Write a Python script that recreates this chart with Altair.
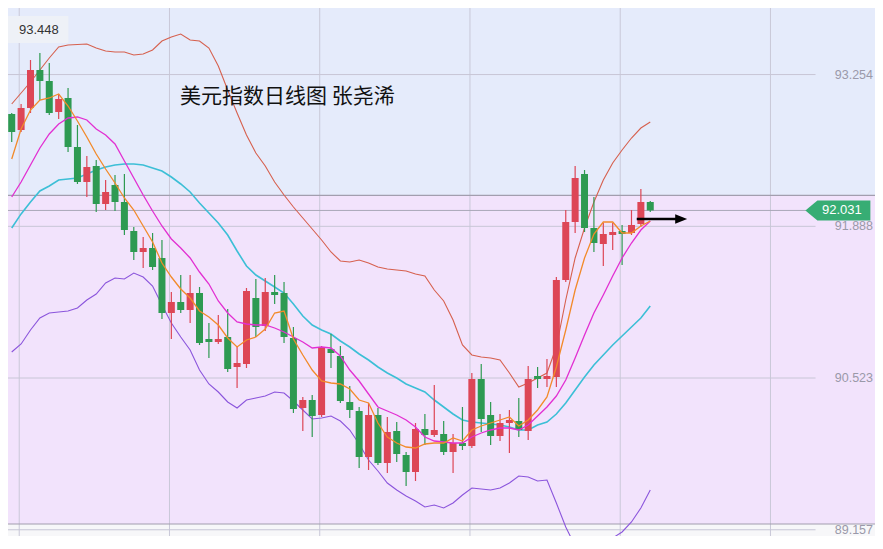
import altair as alt
import pandas as pd

# ---------------- data ----------------
idx = list(range(-1, 69))
opens = [92.602, 92.899, 92.755, 92.953, 93.295, 93.196, 92.917, 93.043, 92.602, 92.287,
         92.431, 92.089, 92.260, 92.107, 91.846, 91.657, 91.693, 91.603, 91.108, 91.207,
         91.135, 91.288, 90.874, 90.847, 90.892, 90.622, 90.649, 91.243, 90.991, 91.297,
         91.288, 90.883, 90.253, 90.325, 90.190, 90.784, 90.721, 90.307, 90.226, 89.812,
         90.190, 89.758, 90.046, 89.830, 89.677, 90.064, 90.010, 90.019, 89.857, 89.938,
         89.911, 90.514, 90.190, 90.001, 90.118, 90.136, 90.046, 90.541, 90.514, 90.532,
         91.405, 91.927, 92.359, 91.873, 91.729, 91.810, 91.846, 91.828, 91.909, 92.107]
highs = [92.935, 92.908, 92.989, 93.385, 93.448, 93.358, 93.079, 93.133, 92.800, 92.521,
         92.485, 92.305, 92.350, 92.359, 91.882, 91.792, 91.828, 91.765, 91.297, 91.450,
         91.450, 91.342, 91.018, 91.090, 91.144, 90.811, 91.333, 91.414, 91.423, 91.450,
         91.387, 90.982, 90.352, 90.370, 90.811, 90.919, 90.811, 90.451, 90.262, 90.298,
         90.253, 90.172, 90.127, 89.857, 90.118, 90.199, 90.460, 90.136, 90.019, 90.262,
         90.568, 90.649, 90.307, 90.199, 90.235, 90.343, 90.631, 90.622, 90.694, 91.432,
         92.035, 92.431, 92.395, 92.152, 91.918, 91.918, 91.900, 92.035, 92.224, 92.116]
lows = [92.575, 92.647, 92.737, 92.908, 93.025, 92.890, 92.854, 92.557, 92.269, 92.152,
        92.017, 92.035, 92.026, 91.810, 91.585, 91.513, 91.495, 91.054, 90.874, 91.108,
        91.018, 90.820, 90.703, 90.829, 90.577, 90.433, 90.613, 90.892, 90.946, 91.189,
        90.838, 90.208, 90.046, 89.992, 90.172, 90.613, 90.298, 90.163, 89.713, 89.695,
        89.740, 89.668, 89.767, 89.551, 89.596, 89.920, 89.992, 89.830, 89.668, 89.875,
        89.893, 90.037, 89.920, 89.956, 89.848, 89.992, 89.965, 90.433, 90.442, 90.442,
        91.387, 91.828, 91.837, 91.657, 91.531, 91.675, 91.540, 91.810, 91.882, 92.017]
closes = [92.908, 92.737, 92.953, 93.295, 93.196, 92.908, 93.034, 92.602, 92.287, 92.422,
          92.089, 92.197, 92.107, 91.855, 91.657, 91.693, 91.522, 91.108, 91.207, 91.135,
          91.288, 90.838, 90.847, 90.874, 90.604, 90.658, 91.306, 90.982, 91.297, 91.270,
          90.892, 90.244, 90.325, 90.181, 90.793, 90.748, 90.316, 90.235, 89.812, 90.190,
          89.758, 90.037, 89.839, 89.677, 90.064, 90.010, 90.055, 89.857, 89.938, 89.911,
          90.514, 90.154, 90.001, 90.118, 90.145, 90.055, 90.514, 90.514, 90.541, 91.405,
          91.927, 92.323, 91.873, 91.738, 91.819, 91.837, 91.819, 91.900, 92.107, 92.031]

line_idx = list(range(0, 69))
ma5 = [92.494, 92.764, 92.935, 93.025, 93.043, 93.079, 92.971, 92.836, 92.692, 92.539,
       92.404, 92.278, 92.143, 92.035, 91.891, 91.747, 91.558, 91.432, 91.324, 91.243,
       91.126, 91.072, 91.000, 90.883, 90.802, 90.865, 90.892, 90.964, 91.108, 91.126,
       90.874, 90.730, 90.595, 90.496, 90.478, 90.469, 90.424, 90.325, 90.298, 90.118,
       89.992, 89.938, 89.902, 89.893, 89.929, 89.938, 89.938, 89.983, 89.956, 90.055,
       90.091, 90.118, 90.145, 90.172, 90.091, 90.145, 90.235, 90.352, 90.622, 90.955,
       91.315, 91.603, 91.819, 91.927, 91.927, 91.828, 91.828, 91.891, 91.936]
ma10 = [92.152, 92.287, 92.440, 92.593, 92.719, 92.809, 92.863, 92.872, 92.845, 92.764,
        92.710, 92.629, 92.476, 92.323, 92.170, 92.026, 91.891, 91.774, 91.693, 91.603,
        91.477, 91.369, 91.216, 91.108, 91.027, 91.009, 91.000, 91.000, 90.973, 90.937,
        90.892, 90.847, 90.793, 90.802, 90.793, 90.721, 90.595, 90.496, 90.379, 90.262,
        90.226, 90.190, 90.145, 90.082, 89.992, 89.956, 89.947, 89.938, 89.938, 89.992,
        90.028, 90.055, 90.073, 90.073, 90.055, 90.100, 90.181, 90.262, 90.361, 90.505,
        90.703, 90.910, 91.108, 91.270, 91.441, 91.603, 91.738, 91.855, 91.936]
boll_mid = [91.873, 92.000, 92.107, 92.206, 92.251, 92.305, 92.314, 92.323, 92.359, 92.395,
            92.422, 92.440, 92.449, 92.449, 92.440, 92.413, 92.386, 92.332, 92.269, 92.197,
            92.098, 92.008, 91.918, 91.810, 91.666, 91.531, 91.450, 91.396, 91.342, 91.288,
            91.189, 91.081, 91.000, 90.955, 90.919, 90.856, 90.802, 90.739, 90.685, 90.622,
            90.568, 90.523, 90.469, 90.433, 90.397, 90.325, 90.262, 90.199, 90.145, 90.127,
            90.118, 90.109, 90.100, 90.082, 90.055, 90.055, 90.100, 90.127, 90.199, 90.298,
            90.415, 90.532, 90.640, 90.730, 90.820, 90.901, 90.982, 91.063, 91.171]
boll_up = [92.989, 93.088, 93.187, 93.295, 93.403, 93.502, 93.520, 93.525, 93.529, 93.493,
           93.466, 93.457, 93.457, 93.430, 93.439, 93.475, 93.556, 93.592, 93.619, 93.565,
           93.556, 93.493, 93.331, 93.115, 92.908, 92.710, 92.548, 92.431, 92.287, 92.170,
           92.062, 91.963, 91.864, 91.765, 91.657, 91.576, 91.567, 91.585, 91.558, 91.522,
           91.504, 91.495, 91.486, 91.459, 91.441, 91.315, 91.216, 91.045, 90.820, 90.730,
           90.712, 90.703, 90.685, 90.568, 90.442, 90.478, 90.523, 90.568, 90.802, 91.225,
           91.603, 91.873, 92.107, 92.305, 92.458, 92.575, 92.683, 92.773, 92.827]
boll_low = [90.757, 90.829, 90.955, 91.063, 91.108, 91.117, 91.126, 91.153, 91.225, 91.279,
            91.378, 91.423, 91.414, 91.468, 91.432, 91.351, 91.180, 91.018, 90.892, 90.775,
            90.595, 90.469, 90.397, 90.307, 90.253, 90.325, 90.343, 90.361, 90.397, 90.388,
            90.316, 90.235, 90.154, 90.163, 90.181, 90.136, 90.055, 89.929, 89.785, 89.686,
            89.578, 89.515, 89.461, 89.416, 89.362, 89.380, 89.353, 89.398, 89.470, 89.533,
            89.524, 89.515, 89.533, 89.578, 89.641, 89.632, 89.596, 89.605, 89.398, 89.182,
            89.011, 88.993, 89.020, 89.056, 89.083, 89.137, 89.227, 89.353, 89.515]

y_ticks = [93.254, 91.888, 90.523, 89.157]
y_tick_labels = ["93.254", "91.888", "90.523", "89.157"]
x_grid = [0.8, 16.8, 32.8, 48.8, 64.8, 80.8]
title_text = "美元指数日线图 张尧浠"

# ---------------- layout ----------------
W, H = 867, 528
UP, DOWN = "#dd4656", "#2e9a52"
xs = alt.Scale(domain=[0.137, 91.4], nice=False, zero=False)
ys = alt.Scale(domain=[89.101, 93.853], nice=False, zero=False)
NUM_FONT = "Liberation Sans"


def X(f):
    return alt.X(f, type="quantitative", scale=xs, axis=None)


def Y(f):
    return alt.Y(f, type="quantitative", scale=ys, axis=None)


candles = pd.DataFrame({"i": idx, "open": opens, "high": highs, "low": lows, "close": closes})
candles["col"] = [UP if c >= o else DOWN for o, c in zip(opens, closes)]
lines = pd.DataFrame({"i": line_idx, "ma5": ma5, "ma10": ma10, "mid": boll_mid,
                      "up": boll_up, "low": boll_low})

bg = pd.DataFrame({"top": [93.853, 92.167, 89.209], "bot": [92.167, 89.209, 89.101],
                   "fill": ["#e5ebfb", "#f2e3fc", "#f7f7f9"]})
background = alt.Chart(bg).mark_rect().encode(
    x=alt.value(0), x2=alt.value(W), y=Y("top"), y2=alt.Y2("bot"),
    color=alt.Color("fill:N", scale=None))

vgrid = alt.Chart(pd.DataFrame({"g": x_grid})).mark_rule(color="#c9c8d8", strokeWidth=1).encode(
    x=X("g"), y=alt.value(0), y2=alt.value(H))

ticks = pd.DataFrame({"v": y_ticks, "t": y_tick_labels, "x0": -2, "x1": 85.6})
hgrid = alt.Chart(ticks).mark_rule(color="#c8c6d6", strokeWidth=1).encode(
    x=X("x0"), x2=alt.X2("x1"), y=Y("v"))
tick_text = alt.Chart(ticks).mark_text(align="right", baseline="middle", fontSize=12.5,
                                       font=NUM_FONT, color="#9a99a9").encode(
    x=alt.value(W - 2), y=Y("v"), text="t:N")

seps = alt.Chart(pd.DataFrame({"v": [92.167, 89.209]})).mark_rule(
    color="#a29eae", strokeWidth=1.2).encode(x=alt.value(0), x2=alt.value(W), y=Y("v"))

last = closes[-1]
price_line = alt.Chart(pd.DataFrame({"v": [last], "x0": [-2], "x1": [84.6]})).mark_rule(
    color="#a9a7b8", strokeWidth=1).encode(x=X("x0"), x2=alt.X2("x1"), y=Y("v"))

band_layers = []
for field, color, sw in [("up", "#d6604e", 1.1), ("low", "#8b55dc", 1.1),
                         ("mid", "#3cbfd6", 1.6), ("ma10", "#e22fd2", 1.3),
                         ("ma5", "#f28a2a", 1.3)]:
    band_layers.append(alt.Chart(lines).mark_line(color=color, strokeWidth=sw, clip=True).encode(
        x=X("i"), y=Y(field)))

wicks = alt.Chart(candles).mark_rule(strokeWidth=1.2, clip=True).encode(
    x=X("i"), y=Y("low"), y2=alt.Y2("high"), color=alt.Color("col:N", scale=None))
bodies = alt.Chart(candles).mark_bar(size=7, clip=True).encode(
    x=X("i"), y=Y("open"), y2=alt.Y2("close"), color=alt.Color("col:N", scale=None))

title = alt.Chart(pd.DataFrame({"i": [17.93], "v": [93.052], "t": [title_text]})).mark_text(
    align="left", baseline="middle", fontSize=21, font="Noto Sans CJK SC", color="#111111").encode(
    x=X("i"), y=Y("v"), text="t:N")

hi = max(highs)
hi_box = alt.Chart(pd.DataFrame({"x0": [-0.7], "x1": [6.03], "y0": [93.781], "y1": [93.538]})).mark_rect(
    color="#eef1f7").encode(x=X("x0"), x2=alt.X2("x1"), y=Y("y0"), y2=alt.Y2("y1"))
hi_text = alt.Chart(pd.DataFrame({"i": [0.77], "v": [93.659], "t": [f"{hi:.3f}"]})).mark_text(
    align="left", baseline="middle", fontSize=13, font=NUM_FONT, color="#333333").encode(
    x=X("i"), y=Y("v"), text="t:N")

tag_path = "M -1 0 L -0.63 -0.308 L 1 -0.308 L 1 0.308 L -0.63 0.308 Z"
tag_df = pd.DataFrame({"i": [87.98], "v": [last], "t": [f"{last:.3f}"]})
tag = alt.Chart(tag_df).mark_point(shape=tag_path, filled=True, size=65 * 65, opacity=1,
                                   color="#37ad74", strokeWidth=0).encode(x=X("i"), y=Y("v"))
tag_text = alt.Chart(tag_df).mark_text(align="center", baseline="middle", fontSize=13,
                                       font=NUM_FONT, color="white", dx=4).encode(
    x=X("i"), y=Y("v"), text="t:N")

arrow_df = pd.DataFrame({"x0": [66.56], "x1": [71.0], "v": [91.954]})
arrow_line = alt.Chart(arrow_df).mark_rule(color="#000000", strokeWidth=2.6).encode(
    x=X("x0"), x2=alt.X2("x1"), y=Y("v"))
arrow_head = alt.Chart(pd.DataFrame({"i": [71.29], "v": [91.954]})).mark_point(
    shape="M -1 -0.8 L 1 0 L -1 0.8 Z", filled=True, size=144, opacity=1, color="#000000",
    strokeWidth=0).encode(x=X("i"), y=Y("v"))

chart = alt.layer(
    background, vgrid, hgrid, seps, price_line,
    *band_layers[:3], wicks, bodies, *band_layers[3:],
    hi_box, hi_text, title, tick_text, tag, tag_text, arrow_line, arrow_head
).properties(width=W, height=H, padding=0, autosize=alt.AutoSizeParams(type="none")).configure_view(
    strokeWidth=0)

chart.save("out.html", embed_options={"renderer": "svg", "actions": False})
